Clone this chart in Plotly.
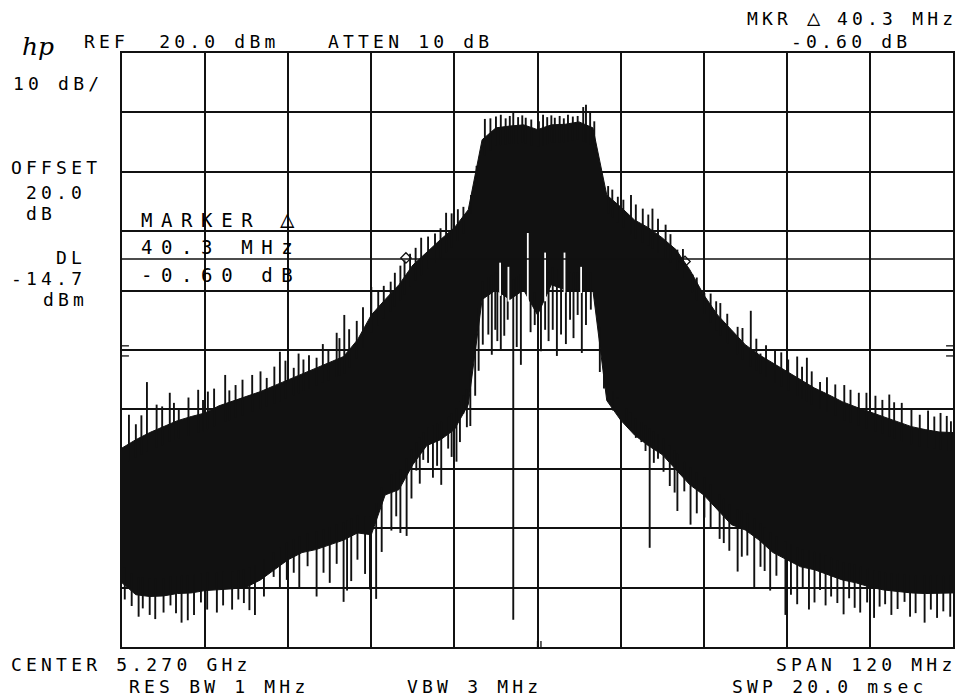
import numpy as np
import plotly.graph_objects as go

# ---- data (offset from 5.270 GHz centre, MHz ; level, dBm) ----
freq_mhz = list(range(-60, 61, 2))
upper_dbm = [-46.5, -45.1, -43.9, -42.9, -41.9, -41.2, -40.6, -39.4, -38.6, -37.7,
             -37.0, -36.0, -35.0, -34.0, -33.0, -32.0, -31.1, -28.3, -24.1, -21.5,
             -19.0, -15.7, -13.5, -11.4, -9.4, -6.4, 5.4, 7.4, 7.7, 7.9,
             7.1, 7.9, 8.0, 8.4, 7.4, -3.9, -5.9, -8.1, -9.4, -11.1,
             -13.1, -16.5, -20.7, -24.1, -26.6, -29.1, -30.8, -32.2, -33.7, -35.0,
             -36.4, -37.5, -38.7, -39.6, -40.4, -41.2, -42.1, -42.9, -43.4, -43.8, -43.9]
lower_dbm = [-69.2, -71.2, -71.5, -71.4, -71.0, -70.9, -70.5, -70.4, -70.2, -69.9,
             -68.7, -67.0, -65.3, -64.1, -63.6, -62.8, -62.0, -60.8, -61.1, -54.4,
             -53.5, -49.3, -46.1, -45.1, -43.4, -39.2, -21.5, -19.9, -21.5, -19.9,
             -24.1, -19.0, -19.9, -19.9, -19.9, -38.5, -41.8, -44.3, -46.1, -47.6,
             -50.2, -52.7, -54.4, -56.9, -59.4, -60.3, -62.0, -64.1, -65.3, -66.5,
             -67.0, -67.8, -68.7, -69.2, -69.9, -70.4, -70.7, -70.9, -71.0, -71.0, -70.9]

up_spike_mhz = [-59.0, -58.0, -57.2, -56.4, -55.0, -54.2, -53.1, -52.5, -51.8, -50.4,
                -49.0, -48.3, -47.6, -46.7, -45.1, -44.5, -43.6, -42.6, -41.2, -40.0,
                -39.1, -38.0, -37.2, -36.4, -35.2, -34.5, -33.8, -33.0, -31.9, -31.0,
                -30.2, -29.0, -28.6, -27.9, -27.2, -26.1, -25.2, -24.0, -23.0, -22.2,
                -21.2, -20.6, -19.8, -19.2, -18.4, -17.6, -16.8, -15.8, -14.8, -14.0,
                -13.2, -12.4, -11.5, -10.7, -9.6, -8.8, -7.6, -6.8, -6.0, -5.3,
                -4.6, -4.0, -3.5, -2.8, -2.2, -1.7, -0.9, 0.2, 0.8, 1.4,
                2.0, 2.5, 3.2, 3.8, 4.4, 5.1, 5.8, 6.6, 7.0, 7.6,
                8.2, 9.2, 10.2, 10.8, 11.6, 12.4, 13.5, 14.2, 15.2, 16.0,
                16.6, 17.4, 18.5, 19.2, 20.2, 21.0, 22.4, 23.0, 24.1, 25.0,
                25.8, 26.4, 27.4, 28.9, 29.6, 30.8, 31.6, 32.2, 33.0, 34.3,
                35.2, 36.2, 37.5, 38.2, 38.9, 39.6, 40.8, 41.8, 43.0, 44.3,
                45.2, 46.4, 47.5, 48.8, 49.8, 50.8, 51.5, 52.6, 54.0, 55.2,
                56.4, 57.3, 58.2, 59.1, 59.7]
up_spike_dbm = [-40.9, -42.5, -41.0, -35.4, -39.2, -39.5, -37.2, -38.9, -40.1, -38.0,
                -36.7, -38.4, -37.0, -36.5, -34.2, -36.8, -35.9, -35.0, -34.2, -33.6,
                -34.7, -32.8, -30.3, -31.8, -33.0, -30.6, -31.6, -30.9, -31.3, -29.0,
                -30.0, -27.1, -28.0, -24.1, -26.5, -25.1, -22.8, -19.4, -20.0, -19.2,
                -18.5, -17.0, -15.8, -14.9, -13.8, -12.8, -11.1, -10.9, -10.4, -9.5,
                -6.9, -7.0, -6.3, -5.9, -3.9, 1.0, 8.9, 9.0, 9.3, 9.6,
                9.0, 9.4, 9.9, 9.2, 9.5, 9.1, 8.8, 8.5, 9.6, 9.2,
                9.5, 9.1, 9.4, 9.0, 9.6, 9.3, 9.4, 10.9, 11.3, 10.0,
                8.5, 0.0, -2.4, -3.0, -4.2, -4.7, -3.9, -5.5, -6.2, -7.2,
                -6.2, -7.9, -8.9, -10.5, -13.1, -13.0, -17.3, -17.8, -20.4, -20.5,
                -21.8, -22.1, -23.9, -26.1, -26.3, -23.4, -28.1, -30.6, -29.2, -30.0,
                -30.4, -31.6, -31.1, -32.8, -31.3, -33.6, -35.4, -34.6, -35.8, -35.9,
                -36.7, -37.2, -37.2, -37.7, -38.4, -37.5, -38.8, -38.9, -40.0, -40.9,
                -40.2, -41.2, -40.6, -41.1, -42.0]

down_spike_mhz = [-59.6, -58.6, -57.6, -57.0, -56.0, -55.2, -54.0, -53.0, -52.2, -51.4,
                  -50.5, -49.6, -48.6, -47.7, -46.3, -45.4, -44.1, -43.2, -42.4, -41.6,
                  -40.8, -39.5, -38.1, -37.2, -36.2, -35.2, -34.4, -33.2, -31.9, -30.9,
                  -30.0, -29.0, -28.0, -27.5, -26.9, -26.0, -24.9, -24.2, -23.3, -22.5,
                  -21.1, -20.4, -19.8, -18.9, -18.2, -17.5, -17.0, -16.5, -15.8, -15.1,
                  -14.5, -13.9, -12.9, -12.4, -11.7, -11.2, -10.7, -10.2, -9.7, -9.0,
                  -8.5, -7.9, -7.1, -6.6, -6.1, -5.8, -5.3, -4.8, -4.3, -3.5,
                  -3.0, -2.4, -1.0, -0.4, 0.5, 1.1, 1.6, 2.2, 2.8, 3.4,
                  4.1, 4.7, 5.2, 5.8, 6.4, 7.0, 7.7, 9.0, 9.6, 10.2,
                  10.9, 11.5, 12.8, 13.4, 14.2, 15.0, 15.6, 16.2, 16.8, 17.4,
                  18.2, 19.1, 19.8, 20.2, 21.2, 22.1, 23.0, 24.1, 25.0, 26.3,
                  26.9, 27.7, 28.9, 29.5, 30.3, 31.3, 32.2, 32.8, 33.6, 34.5,
                  35.8, 36.6, 37.5, 38.3, 39.2, 40.0, 40.8, 41.6, 42.4, 43.3,
                  44.2, 45.0, 45.8, 46.6, 47.6, 48.6, 49.4, 50.2, 51.1, 52.0,
                  53.0, 53.8, 54.6, 55.9, 56.8, 57.7, 58.6, 59.6]
down_spike_dbm = [-72.0, -73.1, -74.9, -73.5, -74.6, -75.3, -74.2, -73.0, -74.3, -75.9,
                  -75.5, -74.6, -72.5, -73.7, -74.2, -73.0, -73.7, -72.0, -72.6, -73.8,
                  -74.6, -71.5, -68.2, -70.0, -68.7, -67.5, -69.9, -66.4, -71.5, -67.5,
                  -69.2, -66.0, -72.4, -70.5, -68.9, -65.3, -67.7, -70.3, -71.9, -64.0,
                  -60.4, -58.0, -60.8, -61.3, -55.0, -50.3, -52.5, -48.5, -49.0, -51.5,
                  -49.5, -52.7, -46.6, -48.0, -48.8, -45.5, -40.7, -43.0, -42.8, -37.7,
                  -33.5, -29.1, -27.4, -30.8, -26.6, -28.5, -30.0, -27.6, -24.9, -75.4,
                  -29.5, -32.5, -27.0, -25.8, -30.2, -26.6, -28.5, -26.6, -31.0, -27.4,
                  -29.0, -24.9, -28.0, -24.1, -30.5, -25.8, -23.2, -33.7, -36.5, -35.5,
                  -40.2, -38.2, -41.8, -43.0, -44.8, -45.5, -47.0, -63.3, -49.0, -48.3,
                  -50.5, -52.9, -54.0, -57.1, -53.8, -59.4, -57.5, -58.2, -60.0, -61.8,
                  -62.5, -63.8, -67.3, -64.8, -64.6, -70.0, -66.5, -67.2, -70.5, -68.0,
                  -74.6, -71.2, -72.8, -70.0, -73.7, -72.5, -70.4, -73.0, -71.5, -72.6,
                  -74.5, -71.8, -73.4, -74.2, -72.5, -75.1, -73.2, -72.8, -74.6, -73.6,
                  -72.4, -74.9, -74.3, -75.9, -73.7, -75.1, -74.0, -74.9]

notch_mhz = [-5.4, -4.2, -1.4, 1.1, 3.9, 6.3]
notch_dbm = [-15.3, -16.0, -10.3, -13.6, -13.6, -16.0]

marker_mhz = [-19.0, 21.3]
marker_dbm = [-14.5, -15.1]
display_line_dbm = -14.7

# ---- geometry of the page (pixels) ----
W, H = 962, 696
L_PX, R_PX, T_PX, B_PX = 122, 955, 53, 647
INK = "#111111"

fig = go.Figure()

# body of the trace
fig.add_trace(go.Scatter(x=freq_mhz, y=lower_dbm, mode="lines",
                         line=dict(color=INK, width=1), hoverinfo="skip"))
fig.add_trace(go.Scatter(x=freq_mhz, y=upper_dbm, mode="lines", fill="tonexty",
                         fillcolor=INK, line=dict(color=INK, width=1), hoverinfo="skip"))

def segs(xs, tips, bases):
    X, Y = [], []
    for f, t, b in zip(xs, tips, bases):
        X += [f, f, None]
        Y += [t, b, None]
    return X, Y

up_base = np.interp(up_spike_mhz, freq_mhz, upper_dbm) - 3
dn_base = np.interp(down_spike_mhz, freq_mhz, lower_dbm) + 3
sx, sy = segs(up_spike_mhz, up_spike_dbm, up_base)
fig.add_trace(go.Scatter(x=sx, y=sy, mode="lines", line=dict(color=INK, width=1.9),
                         hoverinfo="skip"))
sx, sy = segs(down_spike_mhz, down_spike_dbm, dn_base)
fig.add_trace(go.Scatter(x=sx, y=sy, mode="lines", line=dict(color=INK, width=1.9),
                         hoverinfo="skip"))
nb = np.interp(notch_mhz, freq_mhz, lower_dbm) - 0.5
sx, sy = segs(notch_mhz, notch_dbm, nb)
fig.add_trace(go.Scatter(x=sx, y=sy, mode="lines", line=dict(color="white", width=1.8),
                         hoverinfo="skip"))

# display line and markers
fig.add_trace(go.Scatter(x=[-60, 60], y=[display_line_dbm] * 2, mode="lines",
                         line=dict(color=INK, width=1.5), hoverinfo="skip"))
fig.add_trace(go.Scatter(x=marker_mhz, y=marker_dbm, mode="markers",
                         marker=dict(symbol="diamond-open", size=8, color=INK,
                                     line=dict(width=1.3)), hoverinfo="skip"))

# small threshold ticks at the edges and centre marker ticks
tx, ty = [], []
for yv in (-29.3, -31.0):
    tx += [-60, -59, None, 59, 60, None]
    ty += [yv, yv, None, yv, yv, None]
for xv in (0.0, 0.5):
    tx += [xv, xv, None]
    ty += [-80, -79, None]
fig.add_trace(go.Scatter(x=tx, y=ty, mode="lines", line=dict(color=INK, width=1.3),
                         hoverinfo="skip"))

# ---- annotations ----
FONT = "DejaVu Sans Mono"
TRI = "△"

def ann(text, x, y, size=18, spacing=4.2, anchor="left"):
    return dict(text=f'<span style="letter-spacing:{spacing}px">{text}</span>',
                x=(x - L_PX) / (R_PX - L_PX), y=(B_PX - y) / (B_PX - T_PX),
                xref="paper", yref="paper", xanchor=anchor, yanchor="middle",
                showarrow=False, font=dict(family=FONT, size=size, color="#000000"))

anns = [
    ann("REF  20.0 dBm", 82, 41),
    ann("ATTEN 10 dB", 326, 41),
    ann("MKR", 747, 19),
    ann(TRI, 807, 17, size=22, spacing=0),
    ann("40.3 MHz", 837, 19),
    ann("-0.60 dB", 791, 41),
    ann("10 dB/", 11, 83),
    ann("OFFSET", 9, 168),
    ann("20.0", 24, 192),
    ann("dB", 24, 213),
    ann("DL", 54, 257),
    ann("-14.7", 9, 278),
    ann("dBm", 41, 299),
    ann("MARKER", 139, 220, size=19, spacing=8.6),
    ann(TRI, 278, 219, size=24, spacing=0),
    ann("40.3 MHz", 139, 247, size=19, spacing=8.6),
    ann("-0.60 dB", 139, 275, size=19, spacing=8.6),
    ann("CENTER 5.270 GHz", 9, 664),
    ann("SPAN 120 MHz", 960, 664, anchor="right"),
    ann("RES BW 1 MHz", 127, 686),
    ann("VBW 3 MHz", 406, 686),
    ann("SWP 20.0 msec", 731, 686),
]
anns.append(dict(text="<i>hp</i>", x=(20 - L_PX) / (R_PX - L_PX), y=(B_PX - 46) / (B_PX - T_PX),
                 xref="paper", yref="paper", xanchor="left", yanchor="middle",
                 showarrow=False, font=dict(family="DejaVu Serif", size=25, color="#000000")))

axis_common = dict(showgrid=True, gridcolor=INK, gridwidth=1.5, zeroline=False,
                   showticklabels=False, ticks="", showline=True, linecolor=INK,
                   linewidth=1.6, mirror=True, fixedrange=True)
fig.update_layout(
    width=W, height=H, autosize=False,
    margin=dict(l=L_PX, r=W - R_PX, t=T_PX, b=H - B_PX, pad=0),
    paper_bgcolor="white", plot_bgcolor="white", showlegend=False,
    xaxis=dict(range=[-60, 60], dtick=12, tick0=-60, **axis_common),
    yaxis=dict(range=[-80, 20], dtick=10, tick0=-80, **axis_common),
    annotations=anns,
)
fig.write_html("out.html")
